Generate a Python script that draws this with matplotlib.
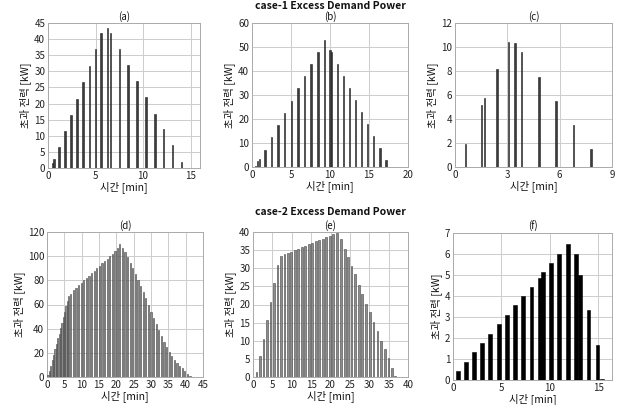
import matplotlib
matplotlib.use("Agg")
import matplotlib.pyplot as plt

plt.rcParams["font.family"] = ["Noto Sans CJK KR", "DejaVu Sans"]

# ── Data ──────────────────────────────────────────────────────────────────────

# (a) case-1
a_t = [0.5, 0.65, 1.15, 1.78, 2.4, 3.07, 3.7, 4.36, 4.98, 5.6, 6.27, 6.55,
       7.5, 8.43, 9.37, 10.3, 11.25, 12.16, 13.1, 14.04]
a_p = [1.5, 2.8, 6.4, 11.5, 16.5, 21.5, 26.8, 31.7, 36.8, 41.9, 43.4, 41.9,
       36.8, 31.9, 27.0, 21.9, 16.9, 12.0, 7.0, 2.0]

# (b) case-1
b_t = [0.42, 0.7, 0.92, 1.67, 2.46, 3.33, 4.17, 5.04, 5.88, 6.75, 7.58, 8.46,
       9.29, 10.0, 10.17, 10.96, 11.75, 12.54, 13.29, 14.04, 14.83, 15.6,
       16.4, 17.2]
b_p = [0.6, 2.3, 3.3, 7.2, 12.3, 17.4, 22.7, 27.7, 32.8, 37.8, 42.9, 48.0,
       53.0, 48.8, 48.0, 43.0, 37.9, 32.9, 27.9, 23.0, 18.0, 12.9, 7.9, 2.9]

# (c) case-1
c_t = [0.59, 1.53, 1.70, 2.41, 3.06, 3.44, 3.82, 4.82, 5.79, 6.81, 7.8]
c_p = [1.94, 5.2, 5.75, 8.17, 10.44, 10.36, 9.58, 7.53, 5.53, 3.53, 1.53]

# (d) case-2
d_t = [0.3, 0.7, 1.1, 1.5, 1.9, 2.3, 2.7, 3.1, 3.5, 3.9, 4.3, 4.7, 5.1, 5.5,
       5.9, 6.3, 6.7,
       7.6, 8.35, 9.1, 9.85, 10.6, 11.35, 12.1, 12.85, 13.6, 14.35, 15.1,
       15.85, 16.6, 17.35, 18.1, 18.85, 19.6, 20.35, 21.0,
       21.75, 22.5, 23.25, 24.0, 24.75, 25.5, 26.25, 27.0, 27.75, 28.5,
       29.25, 30.0, 30.75, 31.5, 32.25, 33.0, 33.75, 34.5, 35.25, 36.0,
       36.75, 37.5, 38.25, 39.0, 39.75, 40.5, 41.25]
d_p = [1.5, 5.0, 9.5, 14.0, 18.5, 23.0, 27.5, 32.0, 36.0, 40.5, 45.0, 49.5,
       54.0, 58.5, 63.0, 67.0, 68.5,
       72.0, 74.0, 76.0, 78.0, 80.0, 82.0, 84.0, 86.0, 88.0, 90.0, 92.0,
       94.0, 96.0, 98.0, 100.0, 102.0, 104.5, 107.0, 110.0,
       107.0, 103.5, 99.0, 94.5, 90.0, 85.5, 80.5, 75.5, 70.0, 65.0,
       59.5, 54.0, 49.0, 44.0, 39.0, 34.0, 29.0, 24.5, 20.5, 17.0,
       14.0, 11.5, 9.5, 7.5, 5.0, 2.5, 0.8]

# (e) case-2
e_t = [0.9, 1.8, 2.7, 3.6, 4.5, 5.4, 6.3, 7.2,
       8.1, 9.0, 9.9, 10.8, 11.7, 12.6, 13.5, 14.4, 15.3, 16.2, 17.1, 18.0,
       18.9, 19.8, 20.7, 21.6,
       22.8, 23.7, 24.5, 25.4, 26.3, 27.3, 28.2, 29.2, 30.1, 31.1, 32.1,
       33.1, 34.0, 35.0, 35.8, 36.7]
e_p = [1.3, 5.8, 10.5, 15.6, 20.8, 25.8, 30.8, 33.4,
       33.8, 34.2, 34.6, 35.0, 35.4, 35.8, 36.2, 36.6, 37.0, 37.4, 37.8, 38.2,
       38.6, 39.0, 39.5, 39.7,
       38.0, 35.2, 33.0, 30.6, 28.3, 25.4, 22.8, 20.2, 17.8, 15.2, 12.7,
       10.0, 7.6, 5.2, 2.6, 0.3]

# (f) case-2
f_t = [0.48, 1.34, 2.17, 3.03, 3.86, 4.72, 5.55, 6.41, 7.24, 8.1, 8.93, 9.28,
       10.14, 10.97, 11.83, 12.66, 13.1, 13.97, 14.9, 15.4]
f_p = [0.43, 0.87, 1.33, 1.78, 2.2, 2.66, 3.1, 3.55, 4.0, 4.44, 4.88, 5.12,
       5.56, 6.0, 6.47, 5.99, 5.0, 3.33, 1.66, 0.05]

XLABEL = "시간 [min]"
YLABEL = "초과 전력 [kW]"

# ── Plotting ──────────────────────────────────────────────────────────────────

W, H = 621, 405
fig = plt.figure(figsize=(W / 100, H / 100), dpi=100)


def make_ax(x0, y0, x1, y1):
    """Axes from pixel box (left, top, right, bottom)."""
    return fig.add_axes([x0 / W, 1 - y1 / H, (x1 - x0) / W, (y1 - y0) / H])


panels = [
    # box, t, p, title, xlim, xticks, ylim, yticks, width, face, edge
    ((48, 23, 200, 168), a_t, a_p, "(a)", 16, [0, 5, 10, 15], 45, range(0, 46, 5), 0.15, "#3c3c3c", "#1e1e1e"),
    ((252, 23, 408, 167), b_t, b_p, "(b)", 20, [0, 5, 10, 15, 20], 60, range(0, 61, 10), 0.17, "#3c3c3c", "#1e1e1e"),
    ((455, 23, 612, 167), c_t, c_p, "(c)", 9, [0, 3, 6, 9], 12, range(0, 13, 2), 0.08, "#3c3c3c", "#1e1e1e"),
    ((47, 232, 203, 377), d_t, d_p, "(d)", 45, range(0, 46, 5), 120, range(0, 121, 20), 0.36, "#8c8c8c", "#444444"),
    ((253, 232, 408, 377), e_t, e_p, "(e)", 40, range(0, 41, 5), 40, range(0, 41, 5), 0.45, "#8c8c8c", "#444444"),
    ((453, 233, 612, 380), f_t, f_p, "(f)", 16.4, [0, 5, 10, 15], 7, range(0, 8), 0.4, "#000000", "#000000"),
]

for box, t, p, title, xmax, xt, ymax, yt, width, face, edge in panels:
    ax = make_ax(*box)
    ax.bar(t, p, width=width, color=face, edgecolor=edge, linewidth=0.4, zorder=3)
    ax.set_xlim(0, xmax)
    ax.set_ylim(0, ymax)
    ax.set_xticks(list(xt))
    ax.set_yticks(list(yt))
    ax.grid(True, color="#cccccc", linewidth=0.7, zorder=0)
    ax.tick_params(labelsize=7, length=0, pad=2, colors="#222222")
    for s in ax.spines.values():
        s.set_color("#aaaaaa")
        s.set_linewidth(0.7)
    ax.set_title(title, fontsize=7, pad=2, color="#111111")
    ax.set_xlabel(XLABEL, fontsize=7.5, labelpad=0, color="#111111")
    ax.set_ylabel(YLABEL, fontsize=7.5, labelpad=2, color="#111111")

fig.text(330 / W, 1 - 6 / H, "case-1 Excess Demand Power", ha="center", va="center",
         fontsize=7.5, fontweight="bold", color="#111111")
fig.text(330 / W, 1 - 212 / H, "case-2 Excess Demand Power", ha="center", va="center",
         fontsize=7.5, fontweight="bold", color="#111111")

fig.savefig("out.png", dpi=100)
